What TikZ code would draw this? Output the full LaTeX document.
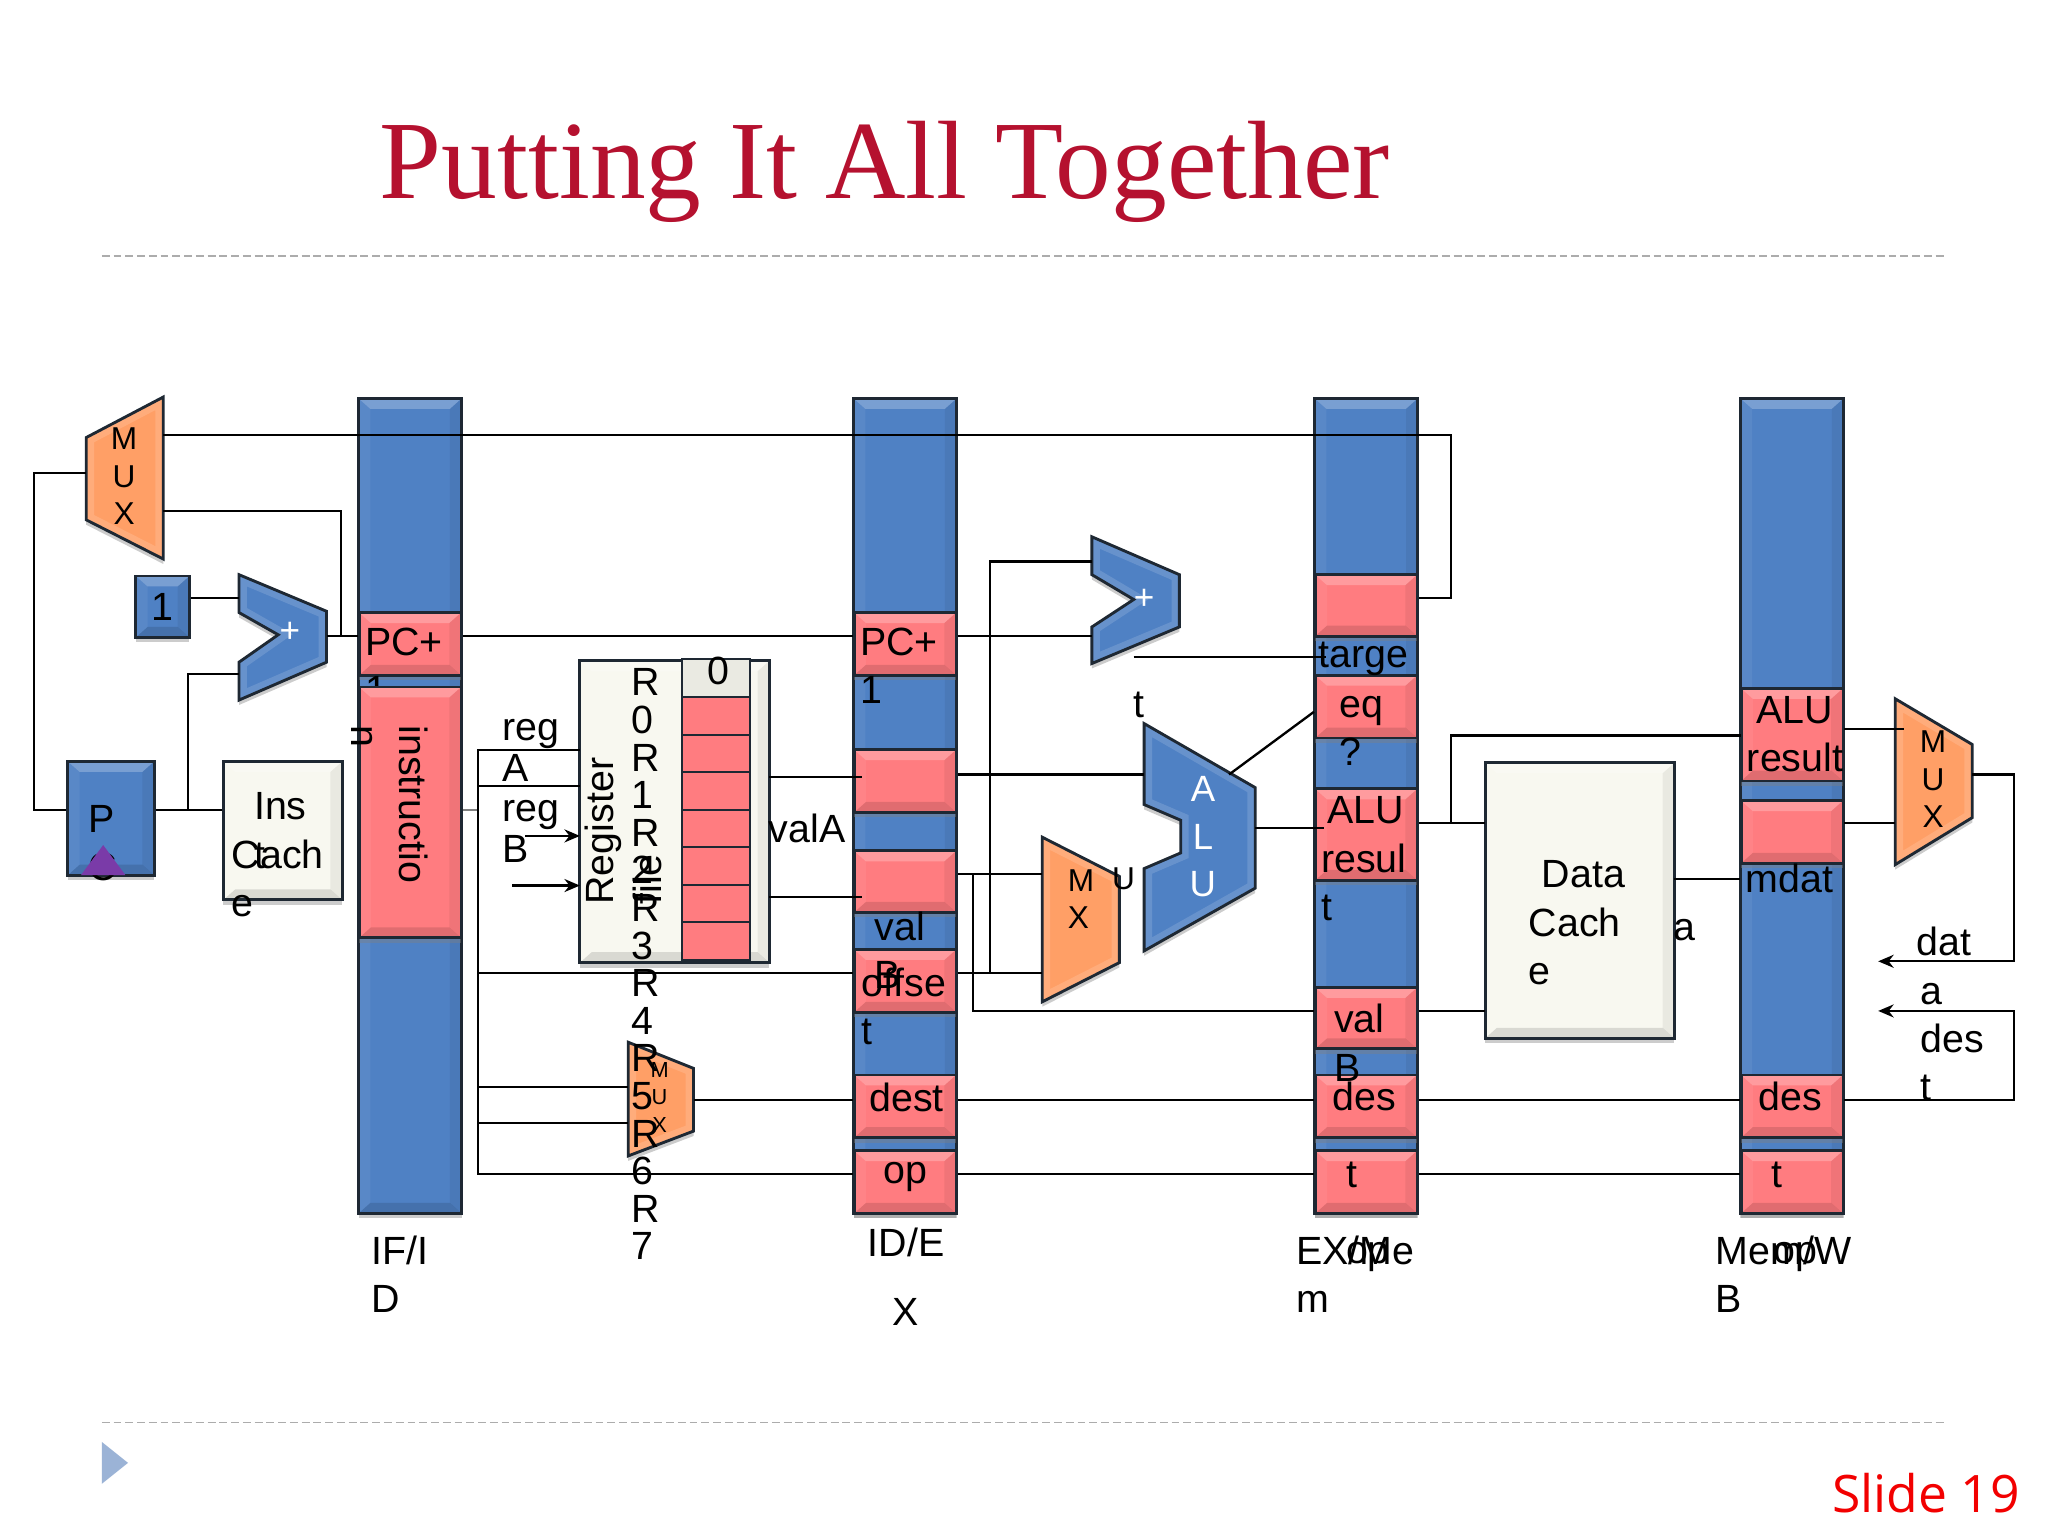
\documentclass[tikz,border=0pt]{standalone}
\usepackage{fontspec}
\usepackage{xcolor}
\setmainfont{Liberation Sans}
\newfontfamily\titlefont{Liberation Serif}
\newfontfamily\slidefont{Open Sans}
\usetikzlibrary{arrows.meta,shadows}
\newlength\un
\setlength\un{0.013061cm}
\definecolor{barblue}{HTML}{4F81C4}
\definecolor{cellpink}{HTML}{FF7C80}
\definecolor{muxorange}{HTML}{FF9F66}
\definecolor{cachecream}{HTML}{F8F8F0}
\definecolor{rimdark}{HTML}{1E2833}
\definecolor{titlered}{HTML}{B5112F}
\definecolor{bulletblue}{HTML}{9BB3D6}
\definecolor{pcviolet}{HTML}{7A3BA8}
\newcommand\solidpoly[2]{%
  \fill[#1, softshadow] #2 -- cycle;
  \begin{scope}
    \clip #2 -- cycle;
    \draw[white, opacity=.14, line width=12\un] #2 -- cycle;
  \end{scope}
  \draw[rim] #2 -- cycle;
}

\begin{document}
\begin{tikzpicture}[
  x=\un, y=-\un,
  >={Stealth[length=4.4pt,width=3.7pt]},
  rim/.style={draw=rimdark, line width=2.2\un, line join=miter},
  softshadow/.style={drop shadow={shadow xshift=0pt, shadow yshift=-1.4pt, opacity=.4}},
  bevel/.style={path picture={
    \path (path picture bounding box.north west) coordinate (bnw)
          (path picture bounding box.north east) coordinate (bne)
          (path picture bounding box.south west) coordinate (bsw)
          (path picture bounding box.south east) coordinate (bse);
    \fill[white, opacity=.24] (bnw) -- (bne) -- ([shift={(-9\un,-8\un)}]bne) -- ([shift={(9\un,-8\un)}]bnw) -- cycle;
    \fill[black, opacity=.12] (bsw) -- (bse) -- ([shift={(-9\un,8\un)}]bse) -- ([shift={(9\un,8\un)}]bsw) -- cycle;
    \fill[white, opacity=.06] (bnw) -- (bsw) -- ([shift={(9\un,8\un)}]bsw) -- ([shift={(9\un,-8\un)}]bnw) -- cycle;
    \fill[black, opacity=.06] (bne) -- (bse) -- ([shift={(-9\un,8\un)}]bse) -- ([shift={(-9\un,-8\un)}]bne) -- cycle;
  }},
  latchbar/.style={rim, fill=barblue, softshadow, bevel, minimum width=79\un, minimum height=624\un, inner sep=0pt},
  cell/.style={rim, fill=cellpink, softshadow, bevel, minimum width=78\un, minimum height=#1\un, inner sep=0pt},
  bluebox/.style={rim, fill=barblue, softshadow, bevel, inner sep=0pt, font=\fontsize{11.2}{13.7}\selectfont},
  creambox/.style={rim, fill=cachecream, softshadow, bevel, inner sep=0pt},
  regcell/.style={draw=rimdark, line width=1.6\un, fill=cellpink, minimum width=52\un, minimum height=28.7\un, inner sep=0pt},
  wire/.style={draw=black, line width=1.8\un},
  rotlab/.style={anchor=north west, inner sep=0pt, align=left, font=\fontsize{11.2}{13.7}\selectfont, execute at begin node={\rule{0pt}{22\un}}},
  lab/.style={rotlab, yshift=2.5\un},
  tight/.style={lab, font=\fontsize{11.2}{11.5}\selectfont},
  stacked/.style={lab, font=\fontsize{11.2}{10.7}\selectfont},
  muxlab/.style={anchor=north, inner sep=0pt, align=center, font=\fontsize{9}{10.7}\selectfont},
  whitelab/.style={anchor=north, inner sep=0pt, align=center, text=white, font=\fontsize{10.4}{13.5}\selectfont},
  pluslab/.style={inner sep=0pt, text=white, font=\fontsize{10}{12}\selectfont},
]
\useasboundingbox (0,0) rectangle (1568,1176);
\fill[white] (0,0) rectangle (1568,1176);

% heading and frame
\node[anchor=base west, inner sep=0pt, text=titlered, font=\fontsize{31.7}{36}\titlefont] (title) at (290,152) {Putting It All Together};
\draw[gray!65, line width=1.2\un, dash pattern=on 6\un off 3\un] (78,196) -- (1490,196);
\draw[gray!65, line width=1.2\un, dash pattern=on 6\un off 3\un] (78,1089) -- (1490,1089);
\fill[bulletblue] (78,1104) -- (98,1120) -- (78,1136) -- cycle;
\node[anchor=base east, inner sep=0pt, text=red!95!black, font=\fontsize{14.7}{16}\slidefont] (slide) at (1547,1158) {Slide 19};

% pipeline latches
\node[latchbar] (ifid) at (314,617) {};
\node[latchbar] (idex) at (693,617) {};
\node[latchbar] (exmem) at (1046,617) {};
\node[latchbar] (memwb) at (1372,617) {};

\node[cell=48] (pcif) at (314,493) {};
\node[lab] (pciftext) at (279,483) {PC+\\1};
\node[cell=192] (instr) at (314,622) {};

\node[cell=48] (pcid) at (693,493) {};
\node[cell=48] (valaid) at (693,598) {};
\node[cell=47] (valbid) at (693,675) {};
\node[cell=48] (offsid) at (693,751) {};
\node[cell=48] (destid) at (693,847) {};
\node[cell=48] (opid) at (693,905) {};

\node[cell=47] (targex) at (1046,463.5) {};
\node[cell=48] (eqex) at (1046,541) {};
\node[cell=70] (aluex) at (1046,639) {};
\node[cell=47] (valbex) at (1046,779.5) {};
\node[cell=48] (destex) at (1046,847) {};
\node[cell=48] (opex) at (1046,905) {};

\node[cell=71] (aluwb) at (1372,562.5) {};
\node[cell=48] (mdatwb) at (1372,637) {};
\node[cell=48] (destwb) at (1372,847) {};
\node[cell=48] (opwb) at (1372,905) {};

% fetch stage
\node[bluebox, minimum width=66\un, minimum height=87\un] (pc) at (85,626.5) {};
\node[bluebox, minimum width=41\un, minimum height=47\un] (one) at (124.5,464.5) {1};
\node[creambox, minimum width=91\un, minimum height=106\un] (icache) at (216.5,636) {};
\solidpoly{muxorange}{(66,335) -- (125,304) -- (125,428) -- (66,398)}
\solidpoly{barblue}{(183,440) -- (250,468) -- (250,507) -- (183,536) -- (183,507) -- (213,486) -- (183,469)}

% register file
\node[creambox, minimum width=145\un, minimum height=231\un] (regfile) at (516.5,621.5) {};
\node[draw=rimdark, line width=1.6\un, fill=gray!12!cachecream, minimum width=52\un, minimum height=29\un, inner sep=0pt] (regzero) at (548,519) {};
\foreach \i in {0,...,6} {
  \node[regcell] (reg\i) at (548,{548.3+\i*28.7}) {};
}
\solidpoly{muxorange}{(481,798) -- (531,818) -- (531,866) -- (481,885)}

% execute stage
\solidpoly{barblue}{(836,411) -- (903,440) -- (903,480) -- (836,508) -- (836,480) -- (868,459) -- (836,440)}
\solidpoly{barblue}{(876,554) -- (961,603) -- (961,680) -- (876,728) -- (876,665) -- (904,653) -- (904,628) -- (876,616)}
\solidpoly{muxorange}{(798,641) -- (857,671) -- (857,737) -- (798,767)}

% memory and write back
\node[creambox, minimum width=145\un, minimum height=211\un] (dcache) at (1209.5,689.5) {};
\solidpoly{muxorange}{(1451,535) -- (1510,570) -- (1510,626) -- (1451,662)}

% connection points
\coordinate (muxatop) at (125,333);
\coordinate (muxalow) at (125,391);
\coordinate (muxain) at (66,362);
\coordinate (pcback) at (26,620);
\coordinate (addaone) at (183,458);
\coordinate (addapc) at (183,516);
\coordinate (addaout) at (250,487);
\coordinate (pcsplit) at (144,620);
\coordinate (pcout) at (261,487);
\coordinate (instrout) at (366,620);
\coordinate (rega) at (444,574);
\coordinate (regb) at (444,602);
\coordinate (arrowa) at (402,640);
\coordinate (arrowb) at (392,678);
\coordinate (arrowaend) at (444,640);
\coordinate (arrowbend) at (444,678);
\coordinate (muxcin) at (481,832);
\coordinate (muxdin) at (481,860);
\coordinate (muxcout) at (531,842);
\coordinate (valaout) at (589,595);
\coordinate (valbout) at (589,687);
\coordinate (valaend) at (660,595);
\coordinate (valbend) at (660,687);
\coordinate (aluina) at (876,593);
\coordinate (muxbtop) at (798,669);
\coordinate (muxblow) at (798,745);
\coordinate (valbsplit) at (745,669);
\coordinate (offsplit) at (758,745);
\coordinate (addbtop) at (836,430);
\coordinate (addblow) at (836,487);
\coordinate (addbout) at (868,503);
\coordinate (targend) at (1015,503);
\coordinate (aluout) at (961,634);
\coordinate (aluend) at (1014,634);
\coordinate (aluflag) at (941,593);
\coordinate (eqin) at (1006,545);
\coordinate (branchback) at (1111,458);
\coordinate (alusplit) at (1111,630);
\coordinate (dcachea) at (1137,630);
\coordinate (dcacheb) at (1137,774);
\coordinate (dcacheout) at (1282,673);
\coordinate (aluwbin) at (1333,563);
\coordinate (muxeup) at (1412,558);
\coordinate (muxeupend) at (1458,558);
\coordinate (muxelow) at (1451,630);
\coordinate (muxeout) at (1510,593);
\coordinate (fwddata) at (1438,736);
\coordinate (fwddest) at (1438,774);
\coordinate (fwdside) at (1542,842);

% connectors
\draw[wire] (pc.west |- pcback) -- (pcback) |- (muxain);
\draw[wire] (pc.east |- pcback) -- (icache.west |- pcback);
\draw[wire] (pcsplit) |- (addapc);
\draw[wire] (one.east |- addaone) -- (addaone);
\draw[wire] (addaout) -- (pcif.west |- addaout);
\draw[wire] (pcout) |- (muxalow);
\draw[wire] (muxatop) -| (branchback) -- (targex.east |- branchback);
\draw[wire] (pcif.east |- addaout) -- (pcid.west |- addaout);
\draw[wire, gray] (instr.east |- instrout) -- (instrout);
\draw[wire] (rega) -| (instrout) |- (opid.west |- 0,899);
\draw[wire] (regb) -- (instrout |- regb);
\draw[wire] (instrout |- muxblow) -- (offsid.west |- muxblow);
\draw[wire] (instrout |- muxcin) -- (muxcin);
\draw[wire] (instrout |- muxdin) -- (muxdin);
\draw[wire, ->] (arrowa) -- (arrowaend);
\draw[wire, ->] (arrowb) -- (arrowbend);
\draw[wire] (muxcout) -- (destid.west |- muxcout);
\draw[wire] (valaout) -- (valaend);
\draw[wire] (valbout) -- (valbend);
\draw[wire] (valaid.east |- aluina) -- (aluina);
\draw[wire] (valbid.east |- muxbtop) -- (muxbtop);
\draw[wire] (valbsplit) |- (valbex.west |- fwddest);
\draw[wire] (offsid.east |- muxblow) -- (muxblow);
\draw[wire] (offsplit) |- (addbtop);
\draw[wire] (pcid.east |- addblow) -- (addblow);
\draw[wire] (addbout) -- (targend);
\draw[wire] (aluout) -- (aluend);
\draw[wire] (aluflag) -- (eqin);
\draw[wire] (aluex.east |- alusplit) -- (dcachea);
\draw[wire] (alusplit) |- (aluwbin);
\draw[wire] (valbex.east |- dcacheb) -- (dcacheb);
\draw[wire] (dcacheout) -- (mdatwb.west |- dcacheout);
\draw[wire] (destid.east |- muxcout) -- (destex.west |- muxcout);
\draw[wire] (destex.east |- muxcout) -- (destwb.west |- muxcout);
\draw[wire] (opid.east |- 0,899) -- (opex.west |- 0,899);
\draw[wire] (opex.east |- 0,899) -- (opwb.west |- 0,899);
\draw[wire] (muxeup) -- (muxeupend);
\draw[wire] (mdatwb.east |- muxelow) -- (muxelow);
\draw[wire, ->] (muxeout) -| (fwdside |- fwddata) -- (fwddata);
\draw[wire, ->] (destwb.east |- fwdside) -- (fwdside) |- (fwddest);

% labels
\node[rotlab, rotate=-90] (instrtext) at (328,555) {instructio\\n};
\node[lab] (pcidtext) at (658,483) {PC+\\1};
\node[lab] (valbtext) at (669,700) {val\\B};
\node[lab] (offstext) at (659,743) {offse\\t};
\node[lab] (desttext) at (665,831) {dest};
\node[lab] (optext) at (676,886) {op};
\node[lab] (targtext) at (1009,491) {targe};
\node[lab] (targtail) at (867,529) {t};
\node[lab] (eqtext) at (1025,535) {eq\\?};
\node[lab] (aluextext) at (1011,612) {\hspace*{5\un}ALU\\resul\\t};
\node[lab] (valbextext) at (1021,771) {val\\B};
\node[lab] (destextext) at (1020,830) {des};
\node[lab] (destextail) at (1030,889) {t};
\node[lab] (aluwbtext) at (1337,535) {\hspace*{7\un}ALU\\result};
\node[lab] (mdattext) at (1336,663) {mdat};
\node[lab] (mdattail) at (1281,700) {a};
\node[lab] (destwbtext) at (1346,830) {des};
\node[lab] (destwbtail) at (1356,889) {t};
\node[lab] (dcachetext) at (1170,661) {\hspace*{10\un}Data\\Cach\\e};
\node[lab] (fwdtext) at (1467,712) {dat\\\hspace*{3\un}a\\\hspace*{3\un}des\\\hspace*{3\un}t};
\node[lab] (ifidtext) at (284,948) {IF/I\\D};
\node[lab] (idextext) at (664,942) {ID/E};
\node[lab] (idextail) at (683,995) {X};
\node[lab] (exmemtext) at (992,948) {EX/Me\\m};
\node[lab] (opexlow) at (1030,947) {op};
\node[lab] (memwbtext) at (1313,948) {Mem/W\\B};
\node[lab] (opwblow) at (1357,947) {op};
\node[lab] (pctext) at (67,618.5) {P\\C};
\fill[pcviolet] (62,670) coordinate (tria) -- (96,670) -- (79,647) -- cycle;
\node[lab] (icachea) at (194,609) {Ins\\t};
\node[lab] (icacheb) at (177,645) {Cach\\e};
\node[tight] (regatext) at (384,553) {reg\\A};
\node[tight] (regbtext) at (384,615) {reg\\B};
\node[rotlab, rotate=90] (regfiletext) at (447,693) {Register\\file};
\node[lab] (valatext) at (588,625) {valA};
\node[lab] (zerotext) at (541,504) {0};
\node[stacked] (regnames) at (483,514) {R\\0\\R\\1\\R\\2\\R\\3\\R\\4\\R\\5\\R\\6\\R\\7};
\node[muxlab] (muxatext) at (95,327) {M\\U\\X};
\node[muxlab] (muxetext) at (1480,559) {M\\U\\X};
\node[muxlab, align=left, anchor=north west] (muxbtext) at (817,665) {M\\X};
\node[muxlab, anchor=north west] (muxbtail) at (851,664) {U};
\node[muxlab, font=\fontsize{6.2}{7.8}\selectfont] (muxctext) at (505,813) {M\\U\\X};
\node[whitelab] (alutext) at (921,594) {A\\L\\U};
\node[pluslab] (addatext) at (222,484) {+};
\node[pluslab] (addbtext) at (876,459) {+};
\end{tikzpicture}
\end{document}
